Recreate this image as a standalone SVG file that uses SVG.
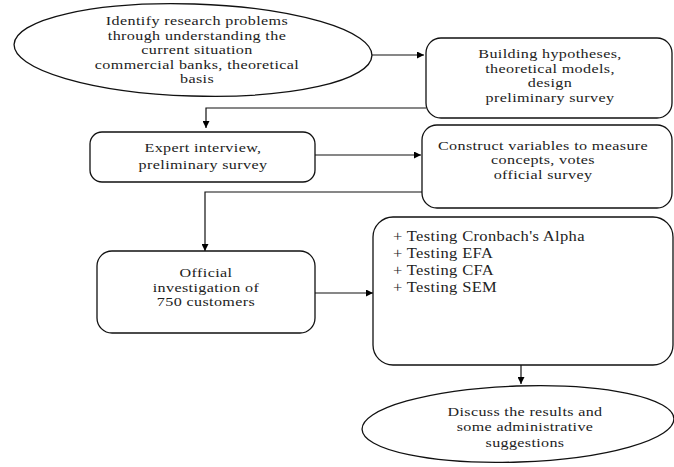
<svg xmlns="http://www.w3.org/2000/svg" width="674" height="467" viewBox="0 0 674 467">
<defs>
<marker id="ah" viewBox="0 0 10 10" refX="10" refY="5" markerWidth="7" markerHeight="7" markerUnits="userSpaceOnUse" orient="auto"><path d="M0,0 L10,5 L0,10 z" fill="#000"/></marker>
<style>
.s{fill:#fff;stroke:#111;stroke-width:1.3}
.t{font-family:"Liberation Serif","Times New Roman",serif;font-size:13px;fill:#222;text-anchor:middle;letter-spacing:0.3px}
.l{text-anchor:start;font-size:14px}
.m{font-size:13.5px}
.c{fill:none;stroke:#111;stroke-width:1.2;marker-end:url(#ah)}
</style>
</defs>
<rect width="674" height="467" fill="#fff"/>
<g id="connectors">
<path class="c" d="M372,55 H424"/>
<path class="c" d="M426,108 H206 V128"/>
<path class="c" d="M315,155 H421"/>
<path class="c" d="M422,192 H205 V251"/>
<path class="c" d="M315,293 H373"/>
<path class="c" d="M521,365 V384"/>
</g>
<g id="n1">
<ellipse class="s" cx="193" cy="50" rx="179" ry="46" transform="rotate(1.8 193 50)"/>
<g transform="translate(197 0) scale(1.24 1) translate(-197 0)">
<text class="t" x="197" y="25.5">Identify research problems</text>
<text class="t" x="197" y="40">through understanding the</text>
<text class="t" x="197" y="54.5">current situation</text>
<text class="t" x="197" y="69">commercial banks, theoretical</text>
<text class="t" x="197" y="83.5">basis</text>
</g>
</g>
<g id="n2">
<rect class="s" x="426" y="38" width="246" height="80" rx="15"/>
<g transform="translate(550 0) scale(1.24 1) translate(-550 0)">
<text class="t" x="550" y="58.5">Building hypotheses,</text>
<text class="t" x="550" y="73">theoretical models,</text>
<text class="t" x="550" y="87.5">design</text>
<text class="t" x="550" y="102">preliminary survey</text>
</g>
</g>
<g id="n3">
<rect class="s" x="90" y="132" width="225" height="50" rx="12"/>
<g transform="translate(203 0) scale(1.24 1) translate(-203 0)">
<text class="t" x="203" y="152.5">Expert interview,</text>
<text class="t" x="203" y="169.5">preliminary survey</text>
</g>
</g>
<g id="n4">
<rect class="s" x="422" y="125" width="250" height="83" rx="15"/>
<g transform="translate(543 0) scale(1.24 1) translate(-543 0)">
<text class="t" x="543" y="150">Construct variables to measure</text>
<text class="t" x="543" y="164.5">concepts, votes</text>
<text class="t" x="543" y="179">official survey</text>
</g>
</g>
<g id="n5">
<rect class="s" x="97" y="251" width="218" height="82" rx="15"/>
<g transform="translate(206 0) scale(1.24 1) translate(-206 0)">
<text class="t" x="206" y="277.5">Official</text>
<text class="t" x="206" y="292">investigation of</text>
<text class="t" x="206" y="306.5">750 customers</text>
</g>
</g>
<g id="n6">
<rect class="s" x="373" y="217" width="300" height="148" rx="20"/>
<g transform="translate(393 0) scale(1.18 1) translate(-393 0)">
<text class="t l" x="393" y="241">+ Testing Cronbach's Alpha</text>
<text class="t l" x="393" y="258">+ Testing EFA</text>
<text class="t l" x="393" y="275">+ Testing CFA</text>
<text class="t l" x="393" y="292">+ Testing SEM</text>
</g>
</g>
<g id="n7">
<ellipse class="s" cx="518" cy="424" rx="156" ry="38" transform="rotate(-2 518 424)"/>
<g transform="translate(525 0) scale(1.19 1) translate(-525 0)">
<text class="t m" x="525" y="416">Discuss the results and</text>
<text class="t m" x="525" y="431.5">some administrative</text>
<text class="t m" x="525" y="447">suggestions</text>
</g>
</g>
</svg>
